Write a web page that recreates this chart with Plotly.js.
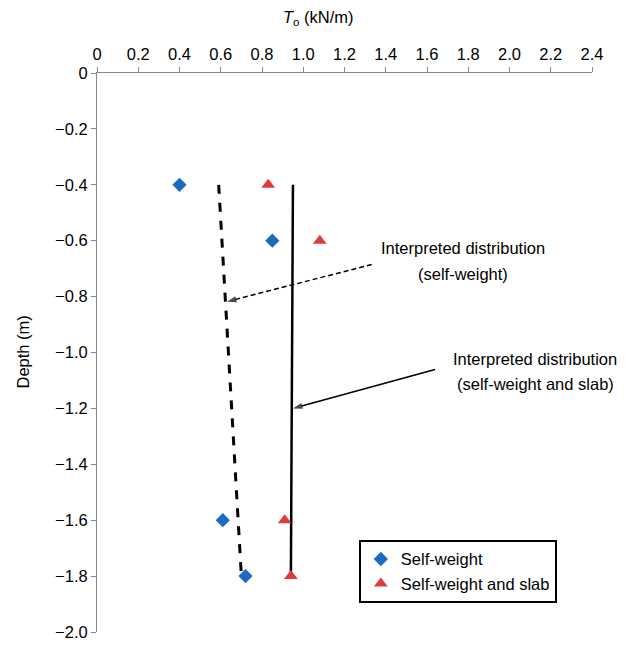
<!DOCTYPE html>
<html>
<head>
<meta charset="utf-8">
<script src="https://cdn.plot.ly/plotly-3.0.1.min.js"></script>
<style>html,body{margin:0;padding:0;background:#fff;}#chart{width:642px;height:645px;}</style>
</head>
<body>
<div id="chart"></div>
<script>
// Data
const selfWeightDepth = [-0.4, -0.6, -1.6, -1.8];
const selfWeightT = [0.40, 0.85, 0.61, 0.72];
const slabDepth = [-0.4, -0.6, -1.6, -1.8];
const slabT = [0.83, 1.08, 0.91, 0.94];
const interpSelfDepth = [-0.4, -1.8];
const interpSelfT = [0.59, 0.70];
const interpSlabDepth = [-0.4, -1.8];
const interpSlabT = [0.95, 0.94];
// arrows: [tail, head]
const arrowSelfT = [1.332, 0.63];
const arrowSelfDepth = [-0.685, -0.818];
const arrowSlabT = [1.639, 0.95];
const arrowSlabDepth = [-1.061, -1.2];
const xTickVals = [0, 0.2, 0.4, 0.6, 0.8, 1.0, 1.2, 1.4, 1.6, 1.8, 2.0, 2.2, 2.4];
const xTickText = ["0", "0.2", "0.4", "0.6", "0.8", "1.0", "1.2", "1.4", "1.6", "1.8", "2.0", "2.2", "2.4"];
const yTickVals = [0, -0.2, -0.4, -0.6, -0.8, -1.0, -1.2, -1.4, -1.6, -1.8, -2.0];
const yTickText = ["0", "\u22120.2", "\u22120.4", "\u22120.6", "\u22120.8", "\u22121.0", "\u22121.2", "\u22121.4", "\u22121.6", "\u22121.8", "\u22122.0"];
const annotLabel1 = ["Interpreted distribution", "(self-weight)"];
const annotLabel2 = ["Interpreted distribution", "(self-weight and slab)"];
const xTitle = "<i>T</i><sub>o</sub> (kN/m)";
const yTitle = "Depth (m)";

const FONT = "Liberation Sans, Arial, sans-serif";
const FS = 16.5;

const traces = [
  {x: interpSelfT, y: interpSelfDepth, mode: "lines", showlegend: false,
   line: {color: "#000", width: 3, dash: "dash"}, hoverinfo: "skip"},
  {x: interpSlabT, y: interpSlabDepth, mode: "lines", showlegend: false,
   line: {color: "#000", width: 2.5}, hoverinfo: "skip"},
  {x: arrowSelfT, y: arrowSelfDepth, mode: "lines+markers", showlegend: false, hoverinfo: "skip",
   line: {color: "#000", width: 1.5, dash: "5px,3px"},
   marker: {symbol: "arrow", size: [0, 10], angleref: "previous", color: "#000", line: {width: 0}}},
  {x: arrowSlabT, y: arrowSlabDepth, mode: "lines+markers", showlegend: false, hoverinfo: "skip",
   line: {color: "#000", width: 1.5},
   marker: {symbol: "arrow", size: [0, 10], angleref: "previous", color: "#000", line: {width: 0}}},
  {x: selfWeightT, y: selfWeightDepth, mode: "markers", name: "Self-weight",
   marker: {symbol: "diamond", size: 11, color: "#1b6cc0"}},
  {x: slabT, y: slabDepth, mode: "markers", name: "Self-weight and slab",
   marker: {symbol: "triangle-up", size: 12, color: "#e03a3a"}}
];

const layout = {
  width: 642, height: 645,
  margin: {l: 97, r: 50, t: 73, b: 13},
  paper_bgcolor: "#fff", plot_bgcolor: "#fff",
  font: {family: FONT, size: FS, color: "#000"},
  showlegend: true,
  legend: {x: 0.529, y: 0.165, xanchor: "left", yanchor: "top",
    bordercolor: "#000", borderwidth: 2, bgcolor: "#fff",
    font: {family: FONT, size: FS, color: "#000"}, tracegroupgap: 2},
  xaxis: {
    side: "top", range: [0, 2.4], tickvals: xTickVals, ticktext: xTickText,
    showgrid: false, zeroline: false, showline: true, linecolor: "#888", linewidth: 1,
    ticks: "outside", ticklen: 5, tickcolor: "#888", fixedrange: true
  },
  yaxis: {
    range: [-2.0, 0], tickvals: yTickVals, ticktext: yTickText,
    showgrid: false, zeroline: false, showline: true, linecolor: "#888", linewidth: 1,
    ticks: "outside", ticklen: 5, tickcolor: "#888", fixedrange: true
  },
  annotations: [
    {x: 0.448, y: 1.098, xref: "paper", yref: "paper", text: xTitle, showarrow: false,
     xanchor: "center", yanchor: "middle", font: {family: FONT, size: FS}},
    {x: -0.1515, y: 0.5, xref: "paper", yref: "paper", text: yTitle, showarrow: false, textangle: -90,
     xanchor: "center", yanchor: "middle", font: {family: FONT, size: FS}},
    {x: 1.775, y: -0.627, xref: "x", yref: "y", text: annotLabel1[0], showarrow: false, font: {family: FONT, size: FS}},
    {x: 1.775, y: -0.72, xref: "x", yref: "y", text: annotLabel1[1], showarrow: false, font: {family: FONT, size: FS}},
    {x: 2.124, y: -1.022, xref: "x", yref: "y", text: annotLabel2[0], showarrow: false, font: {family: FONT, size: FS}},
    {x: 2.124, y: -1.111, xref: "x", yref: "y", text: annotLabel2[1], showarrow: false, font: {family: FONT, size: FS}}
  ]
};

Plotly.newPlot("chart", traces, layout, {displayModeBar: false, staticPlot: true});
</script>
</body>
</html>
